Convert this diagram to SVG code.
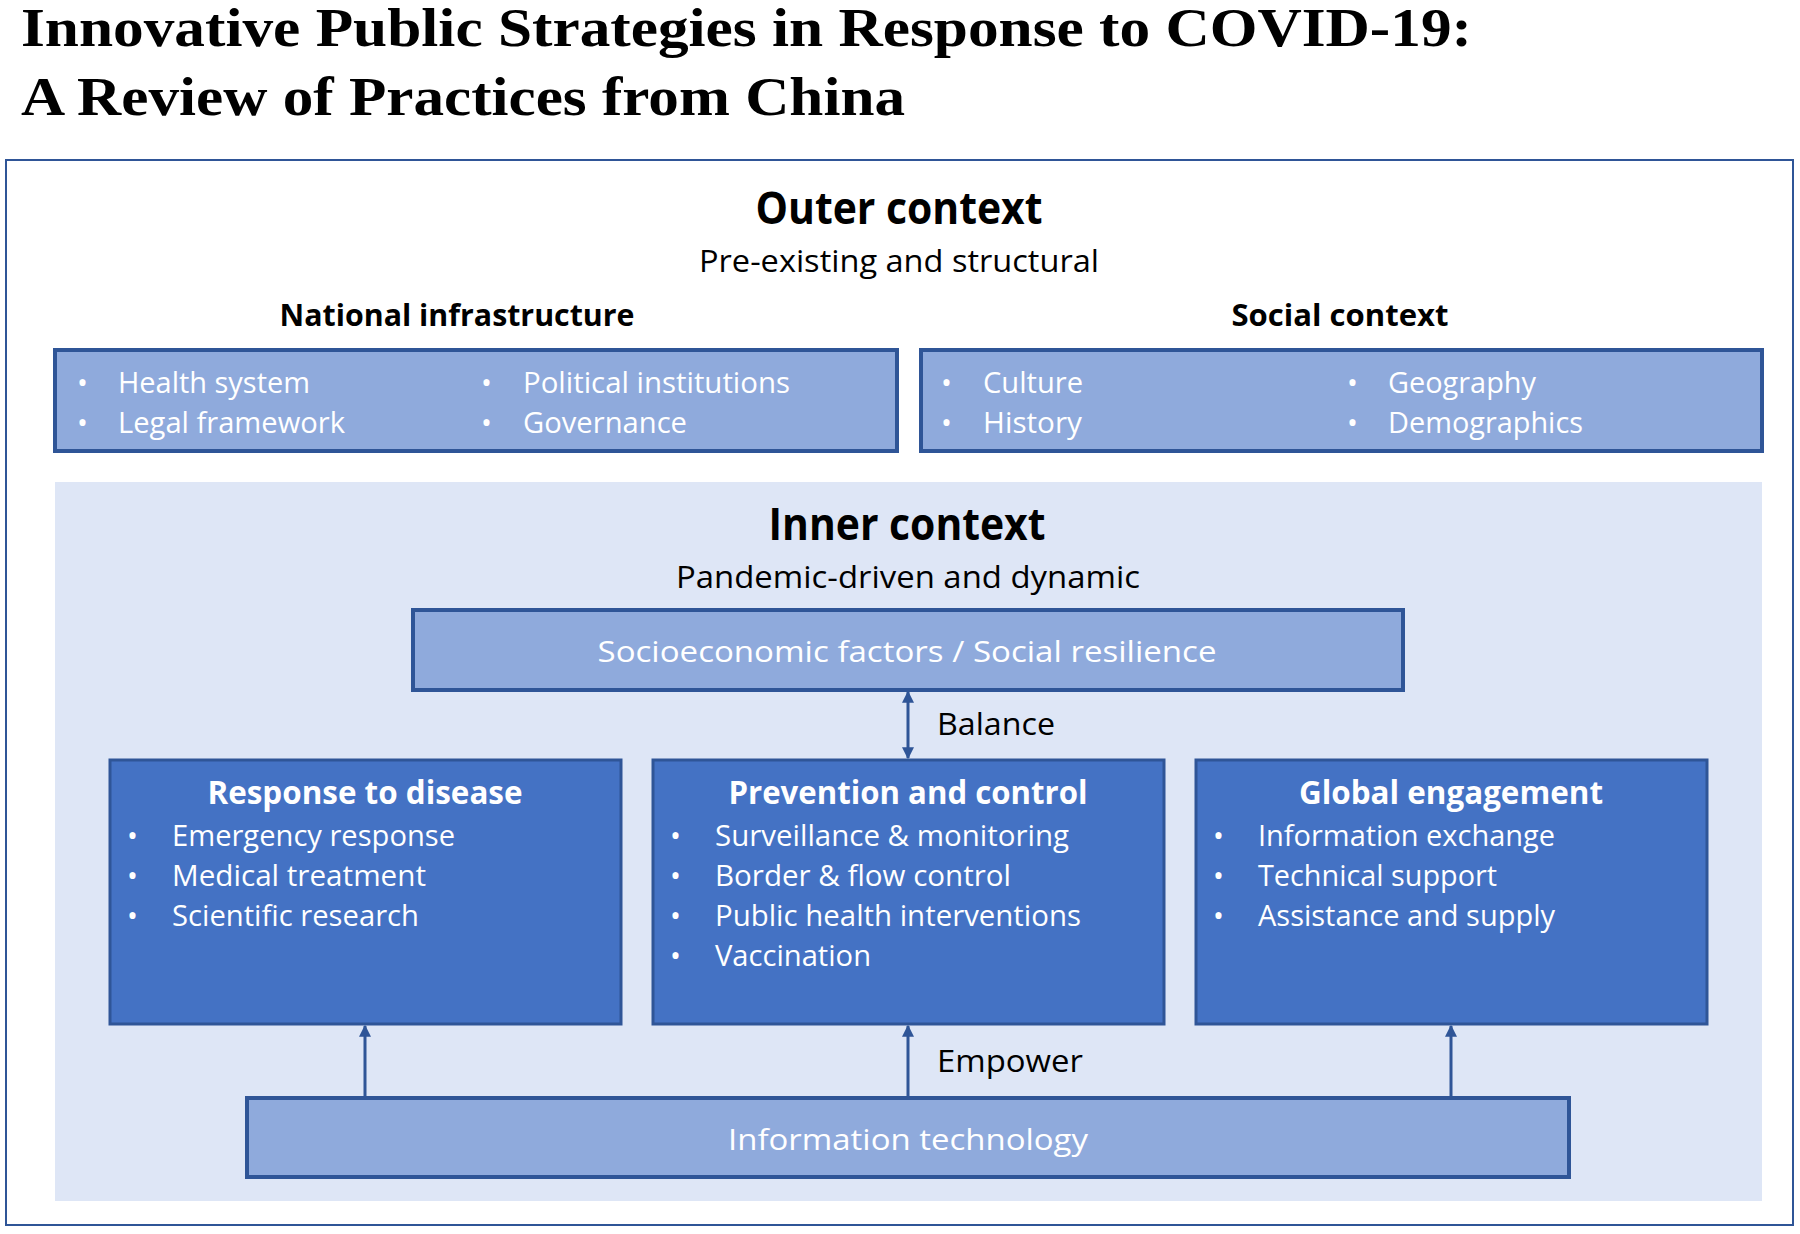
<svg xmlns="http://www.w3.org/2000/svg" width="1800" height="1234" viewBox="0 0 1800 1234">
<style>
text{font-family:"Open Sans","Liberation Sans",sans-serif}
.ttl{font-family:"Liberation Serif",serif;font-weight:bold;font-size:54px;fill:#000}
.h1{font-size:44px;font-weight:bold;fill:#000;text-anchor:middle}
.h2{font-size:31px;fill:#000}
.h3{font-size:31px;font-weight:bold;fill:#000}
.lt{fill:#8FAADC;stroke:#2F5597;stroke-width:4}
.dk{fill:#4472C4;stroke:#2F5597;stroke-width:3}
.w{font-size:29px;fill:#fff}
.wb{font-size:33px;font-weight:bold;fill:#fff;text-anchor:middle}
.con{stroke:#2F5597;stroke-width:3;fill:none}
</style>
<defs>
<marker id="ah" viewBox="0 0 10 10" refX="9" refY="5" markerWidth="4" markerHeight="4" orient="auto-start-reverse"><path d="M0,0L10,5L0,10z" fill="#2F5597"/></marker>
</defs>
<rect width="1800" height="1234" fill="#fff"/>
<text class="ttl" x="21" y="46" textLength="1451" lengthAdjust="spacingAndGlyphs">Innovative Public Strategies in Response to COVID-19:</text>
<text class="ttl" x="21" y="115" textLength="884" lengthAdjust="spacingAndGlyphs">A Review of Practices from China</text>
<rect x="6" y="160" width="1787" height="1065" fill="#fff" stroke="#2F5597" stroke-width="2"/>
<g id="outer-title">
<text class="h1" x="899" y="224" textLength="287" lengthAdjust="spacingAndGlyphs">Outer context</text>
<text class="h2" x="899" y="272" text-anchor="middle" textLength="400" lengthAdjust="spacingAndGlyphs">Pre-existing and structural</text>
<text class="h3" x="457" y="326" text-anchor="middle" textLength="355" lengthAdjust="spacingAndGlyphs">National infrastructure</text>
<text class="h3" x="1340" y="326" text-anchor="middle" textLength="217" lengthAdjust="spacingAndGlyphs">Social context</text>
</g>
<g id="national">
<rect class="lt" x="55" y="350" width="842" height="101"/>
<text class="w" x="77" y="393">•</text><text class="w" x="118" y="393" textLength="192" lengthAdjust="spacingAndGlyphs">Health system</text>
<text class="w" x="77" y="433">•</text><text class="w" x="118" y="433" textLength="227" lengthAdjust="spacingAndGlyphs">Legal framework</text>
<text class="w" x="481" y="393">•</text><text class="w" x="523" y="393" textLength="267" lengthAdjust="spacingAndGlyphs">Political institutions</text>
<text class="w" x="481" y="433">•</text><text class="w" x="523" y="433" textLength="164" lengthAdjust="spacingAndGlyphs">Governance</text>
</g>
<g id="social">
<rect class="lt" x="921" y="350" width="841" height="101"/>
<text class="w" x="941" y="393">•</text><text class="w" x="983" y="393" textLength="100" lengthAdjust="spacingAndGlyphs">Culture</text>
<text class="w" x="941" y="433">•</text><text class="w" x="983" y="433" textLength="99" lengthAdjust="spacingAndGlyphs">History</text>
<text class="w" x="1347" y="393">•</text><text class="w" x="1388" y="393" textLength="148" lengthAdjust="spacingAndGlyphs">Geography</text>
<text class="w" x="1347" y="433">•</text><text class="w" x="1388" y="433" textLength="195" lengthAdjust="spacingAndGlyphs">Demographics</text>
</g>
<rect x="55" y="482" width="1707" height="719" fill="#DEE6F6"/>
<g id="inner-title">
<text class="h1" x="907" y="540" textLength="277" lengthAdjust="spacingAndGlyphs">Inner context</text>
<text class="h2" x="908" y="588" text-anchor="middle" textLength="464" lengthAdjust="spacingAndGlyphs">Pandemic-driven and dynamic</text>
</g>
<g id="socio">
<rect class="lt" x="413" y="610" width="990" height="80"/>
<text class="w" x="907" y="662" text-anchor="middle" font-size="32" textLength="619" lengthAdjust="spacingAndGlyphs">Socioeconomic factors / Social resilience</text>
</g>
<g id="response">
<rect class="dk" x="110" y="760" width="511" height="264"/>
<text class="wb" x="365" y="804" textLength="315" lengthAdjust="spacingAndGlyphs">Response to disease</text>
<text class="w" x="127" y="846">•</text><text class="w" x="172" y="846" textLength="283" lengthAdjust="spacingAndGlyphs">Emergency response</text>
<text class="w" x="127" y="886">•</text><text class="w" x="172" y="886" textLength="254" lengthAdjust="spacingAndGlyphs">Medical treatment</text>
<text class="w" x="127" y="926">•</text><text class="w" x="172" y="926" textLength="247" lengthAdjust="spacingAndGlyphs">Scientific research</text>
</g>
<g id="prevention">
<rect class="dk" x="653" y="760" width="511" height="264"/>
<text class="wb" x="908" y="804" textLength="359" lengthAdjust="spacingAndGlyphs">Prevention and control</text>
<text class="w" x="670" y="846">•</text><text class="w" x="715" y="846" textLength="354" lengthAdjust="spacingAndGlyphs">Surveillance &amp; monitoring</text>
<text class="w" x="670" y="886">•</text><text class="w" x="715" y="886" textLength="296" lengthAdjust="spacingAndGlyphs">Border &amp; flow control</text>
<text class="w" x="670" y="926">•</text><text class="w" x="715" y="926" textLength="366" lengthAdjust="spacingAndGlyphs">Public health interventions</text>
<text class="w" x="670" y="966">•</text><text class="w" x="715" y="966" textLength="156" lengthAdjust="spacingAndGlyphs">Vaccination</text>
</g>
<g id="global">
<rect class="dk" x="1196" y="760" width="511" height="264"/>
<text class="wb" x="1451" y="804" textLength="304" lengthAdjust="spacingAndGlyphs">Global engagement</text>
<text class="w" x="1213" y="846">•</text><text class="w" x="1258" y="846" textLength="297" lengthAdjust="spacingAndGlyphs">Information exchange</text>
<text class="w" x="1213" y="886">•</text><text class="w" x="1258" y="886" textLength="239" lengthAdjust="spacingAndGlyphs">Technical support</text>
<text class="w" x="1213" y="926">•</text><text class="w" x="1258" y="926" textLength="297" lengthAdjust="spacingAndGlyphs">Assistance and supply</text>
</g>
<g id="it">
<rect class="lt" x="247" y="1098" width="1322" height="79"/>
<text class="w" x="908" y="1150" text-anchor="middle" font-size="32" textLength="360" lengthAdjust="spacingAndGlyphs">Information technology</text>
</g>
<g id="connectors">
<line class="con" x1="908" y1="692" x2="908" y2="758" marker-start="url(#ah)" marker-end="url(#ah)"/>
<line class="con" x1="365" y1="1096" x2="365" y2="1026" marker-end="url(#ah)"/>
<line class="con" x1="908" y1="1096" x2="908" y2="1026" marker-end="url(#ah)"/>
<line class="con" x1="1451" y1="1096" x2="1451" y2="1026" marker-end="url(#ah)"/>
<text class="h2" x="937" y="735" textLength="118" lengthAdjust="spacingAndGlyphs">Balance</text>
<text class="h2" x="937" y="1072" textLength="146" lengthAdjust="spacingAndGlyphs">Empower</text>
</g>
</svg>
